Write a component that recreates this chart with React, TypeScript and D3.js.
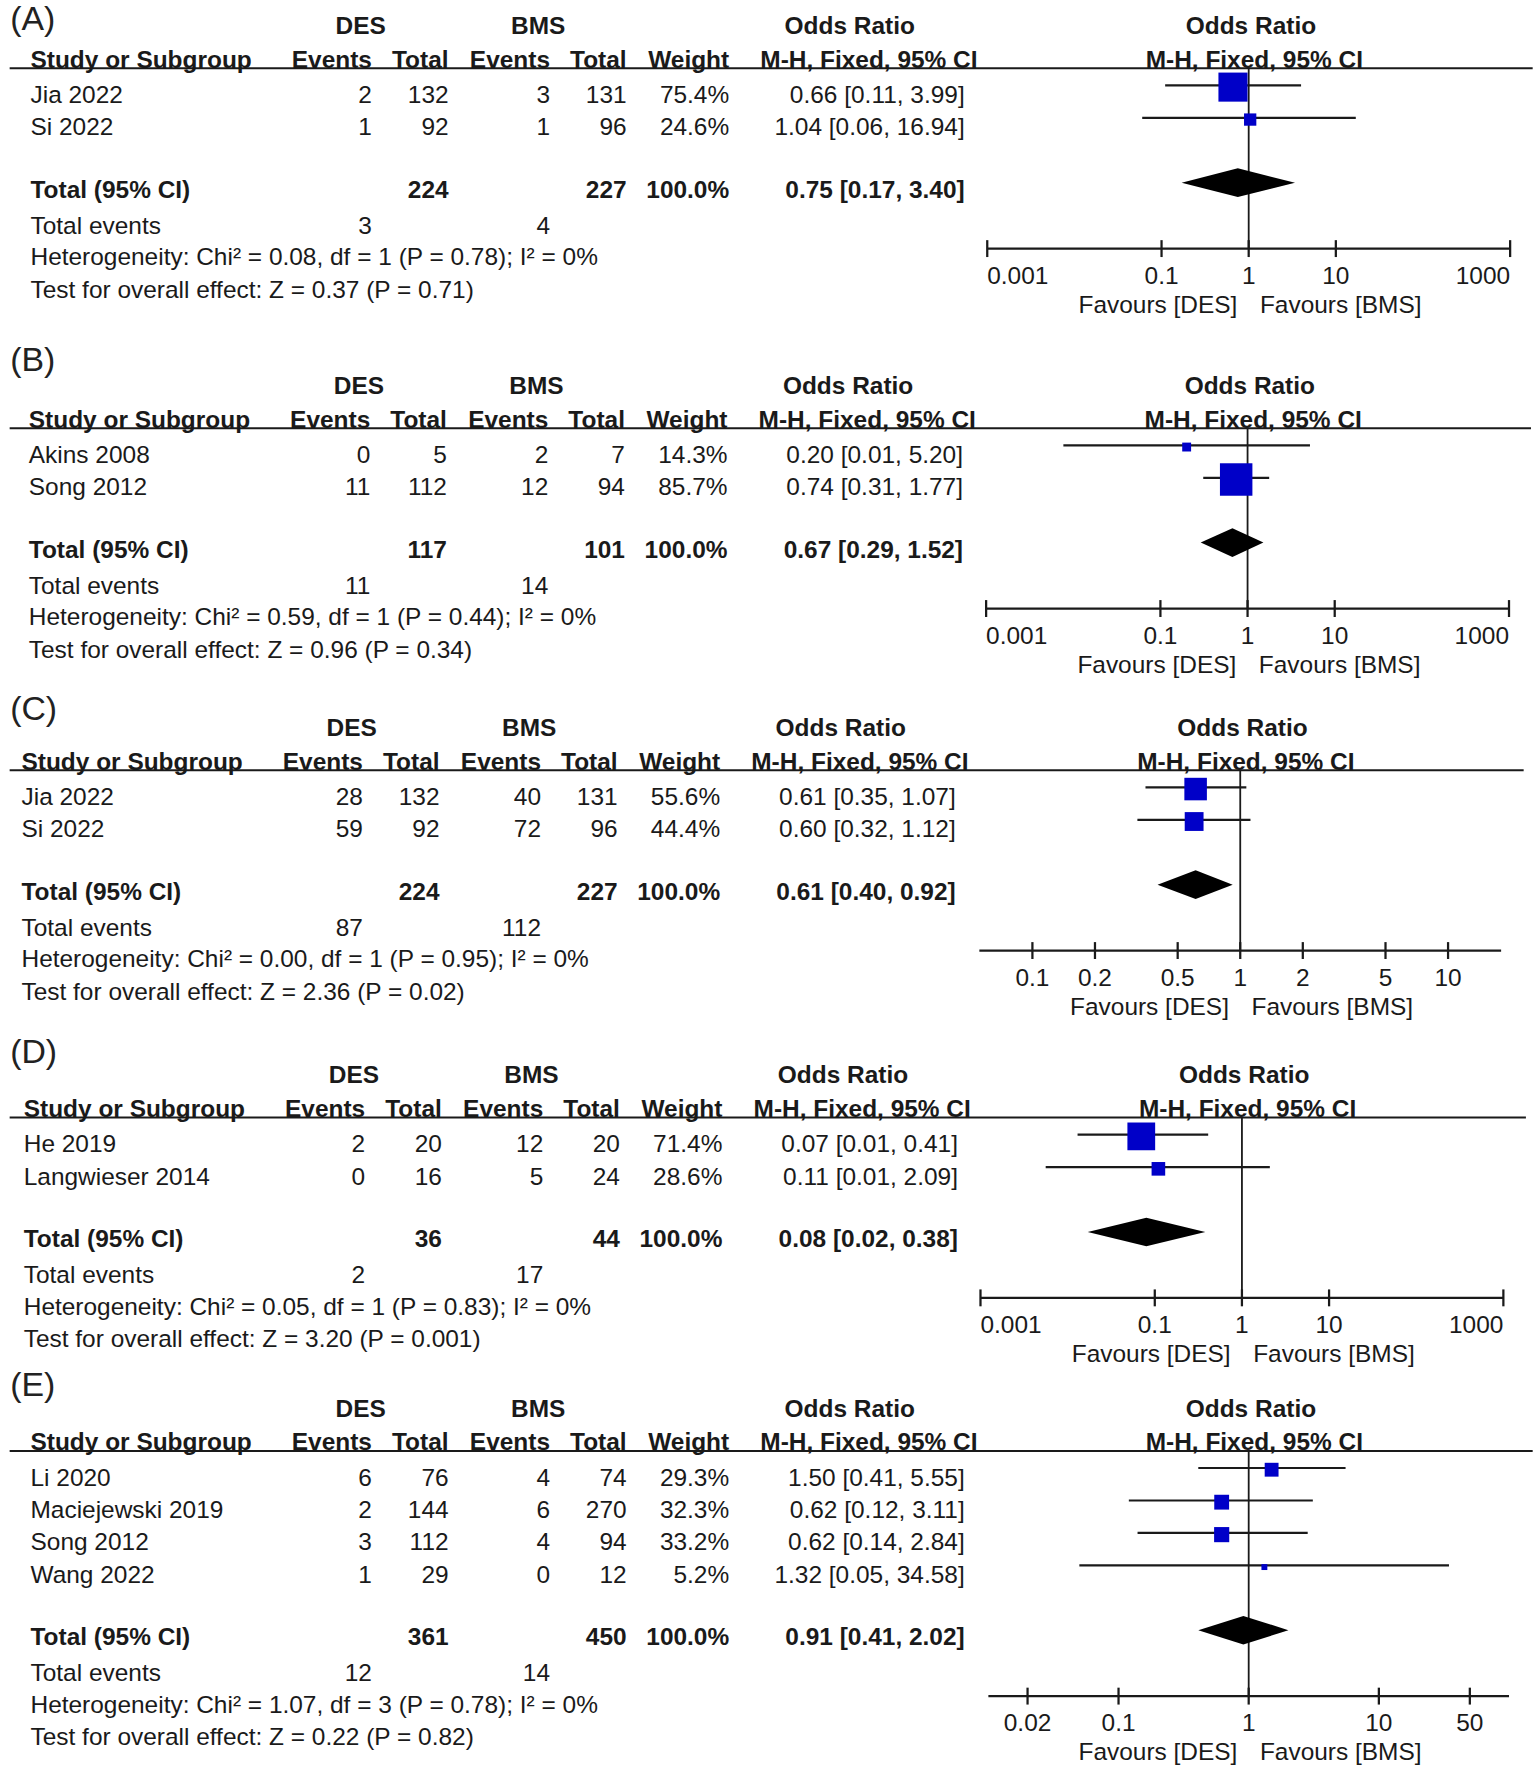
import React from "react"
import * as d3 from "d3"

// ---- data ----
const panelLabels = ["(A)", "(B)", "(C)", "(D)", "(E)"]

const studyNames = [
  ["Jia 2022", "Si 2022"],
  ["Akins 2008", "Song 2012"],
  ["Jia 2022", "Si 2022"],
  ["He 2019", "Langwieser 2014"],
  ["Li 2020", "Maciejewski 2019", "Song 2012", "Wang 2022"],
]
const desEvents = [[2, 1], [0, 11], [28, 59], [2, 0], [6, 2, 3, 1]]
const desTotals = [[132, 92], [5, 112], [132, 92], [20, 16], [76, 144, 112, 29]]
const bmsEvents = [[3, 1], [2, 12], [40, 72], [12, 5], [4, 6, 4, 0]]
const bmsTotals = [[131, 96], [7, 94], [131, 96], [20, 24], [74, 270, 94, 12]]
const weights = [[75.4, 24.6], [14.3, 85.7], [55.6, 44.4], [71.4, 28.6], [29.3, 32.3, 33.2, 5.2]]
const oddsRatios = [[0.66, 1.04], [0.2, 0.74], [0.61, 0.6], [0.07, 0.11], [1.5, 0.62, 0.62, 1.32]]
const ciLower = [[0.11, 0.06], [0.0077, 0.31], [0.35, 0.32], [0.013, 0.0056], [0.41, 0.12, 0.14, 0.05]]
const ciUpper = [[3.99, 16.94], [5.2, 1.77], [1.07, 1.12], [0.41, 2.09], [5.55, 3.11, 2.84, 34.58]]

const totalDes = [224, 117, 224, 36, 361]
const totalBms = [227, 101, 227, 44, 450]
const pooledOr = [0.75, 0.67, 0.61, 0.08, 0.91]
const pooledLower = [0.17, 0.29, 0.4, 0.017, 0.41]
const pooledUpper = [3.4, 1.52, 0.92, 0.38, 2.02]
const eventsDes = [3, 11, 87, 2, 12]
const eventsBms = [4, 14, 112, 17, 14]
const chiSq = ["0.08", "0.59", "0.00", "0.05", "1.07"]
const dfs = [1, 1, 1, 1, 3]
const pHet = ["0.78", "0.44", "0.95", "0.83", "0.78"]
const iSq = [0, 0, 0, 0, 0]
const zStats = ["0.37", "0.96", "2.36", "3.20", "0.22"]
const pOverall = ["0.71", "0.34", "0.02", "0.001", "0.82"]

const axisDomains = [[0.001, 1000], [0.001, 1000], [1 / 18, 18], [0.001, 1000], [0.01, 100]]
const axisTicks = [
  [0.001, 0.1, 1, 10, 1000],
  [0.001, 0.1, 1, 10, 1000],
  [0.1, 0.2, 0.5, 1, 2, 5, 10],
  [0.001, 0.1, 1, 10, 1000],
  [0.02, 0.1, 1, 10, 50],
]

// ---- layout (viewBox units) ----
const VW = 1362
const VH = 1568
const ruleY = [60.6, 380, 683.5, 991.7, 1287.5]
const labelY = [16, 319, 628, 933, 1228]
const shiftX = [0, -1.5, -8, -6, 0]
const plotRange = [[876, 1340], [875, 1339], [869, 1332], [870, 1334], [877, 1339]]

const FONT = "'Liberation Sans', Arial, Helvetica, sans-serif"
const FS = 21.7
const INK = "#1a1a1a"
const BLUE = "#0000c8"

const fmt2 = d3.format(".2f")
const fmt1 = d3.format(".1f")
const boxSize = d3.scaleLinear().domain([0, 100]).range([3.7, 33])

const Panel: React.FC<{ i: number }> = ({ i }) => {
  const dx = shiftX[i]
  const L = ruleY[i]
  const x = d3.scaleLog().domain(axisDomains[i]).range(plotRange[i])
  const x1 = x(1)
  const [r0, r1] = plotRange[i]
  const rows = studyNames[i]
  const rowY = rows.map((_, k) => L + 23.2 + k * 28.8)
  const lastY = rowY[rowY.length - 1]
  const totY = lastY + 55.5
  const evY = totY + 31.7
  const hetY = evY + 28.1
  const testY = hetY + 28.7
  const axisY = lastY + 108

  const col = {
    study: 27 + dx,
    desEv: 330 + dx,
    desTot: 398 + dx,
    bmsEv: 488 + dx,
    bmsTot: 556 + dx,
    weight: 647 + dx,
    or: 856 + dx,
  }
  const t = (props: any, s: string | number, key?: string | number) => (
    <text key={key} fontFamily={FONT} fontSize={FS} fill={INK} dominantBaseline="central" {...props}>
      {s}
    </text>
  )
  const dH = 12.7
  const dY = totY - 6

  return (
    <g>
      <text x={9} y={labelY[i]} fontFamily={FONT} fontSize={30} fill="#222" dominantBaseline="central">
        {panelLabels[i]}
      </text>
      {/* header */}
      {t({ x: 320 + dx, y: L - 38, textAnchor: "middle", fontWeight: "bold" }, "DES")}
      {t({ x: 477.5 + dx, y: L - 38, textAnchor: "middle", fontWeight: "bold" }, "BMS")}
      {t({ x: 754 + dx, y: L - 38, textAnchor: "middle", fontWeight: "bold" }, "Odds Ratio")}
      {t({ x: x1 + 2, y: L - 38, textAnchor: "middle", fontWeight: "bold" }, "Odds Ratio")}
      {t({ x: col.study, y: L - 8, fontWeight: "bold" }, "Study or Subgroup")}
      {t({ x: col.desEv, y: L - 8, textAnchor: "end", fontWeight: "bold" }, "Events")}
      {t({ x: col.desTot, y: L - 8, textAnchor: "end", fontWeight: "bold" }, "Total")}
      {t({ x: col.bmsEv, y: L - 8, textAnchor: "end", fontWeight: "bold" }, "Events")}
      {t({ x: col.bmsTot, y: L - 8, textAnchor: "end", fontWeight: "bold" }, "Total")}
      {t({ x: col.weight, y: L - 8, textAnchor: "end", fontWeight: "bold" }, "Weight")}
      {t({ x: 771 + dx, y: L - 8, textAnchor: "middle", fontWeight: "bold" }, "M-H, Fixed, 95% CI")}
      {t({ x: x1 + 5, y: L - 8, textAnchor: "middle", fontWeight: "bold" }, "M-H, Fixed, 95% CI")}
      <line x1={8.5} x2={1360 + dx} y1={L} y2={L} stroke={INK} strokeWidth={1.8} />

      {/* study rows */}
      {rows.map((name, k) => (
        <g key={name + k}>
          {t({ x: col.study, y: rowY[k] }, name)}
          {t({ x: col.desEv, y: rowY[k], textAnchor: "end" }, desEvents[i][k])}
          {t({ x: col.desTot, y: rowY[k], textAnchor: "end" }, desTotals[i][k])}
          {t({ x: col.bmsEv, y: rowY[k], textAnchor: "end" }, bmsEvents[i][k])}
          {t({ x: col.bmsTot, y: rowY[k], textAnchor: "end" }, bmsTotals[i][k])}
          {t({ x: col.weight, y: rowY[k], textAnchor: "end" }, `${fmt1(weights[i][k])}%`)}
          {t(
            { x: col.or, y: rowY[k], textAnchor: "end" },
            `${fmt2(oddsRatios[i][k])} [${fmt2(ciLower[i][k])}, ${fmt2(ciUpper[i][k])}]`
          )}
        </g>
      ))}

      {/* totals */}
      {t({ x: col.study, y: totY, fontWeight: "bold" }, "Total (95% CI)")}
      {t({ x: col.desTot, y: totY, textAnchor: "end", fontWeight: "bold" }, totalDes[i])}
      {t({ x: col.bmsTot, y: totY, textAnchor: "end", fontWeight: "bold" }, totalBms[i])}
      {t({ x: col.weight, y: totY, textAnchor: "end", fontWeight: "bold" }, "100.0%")}
      {t(
        { x: col.or, y: totY, textAnchor: "end", fontWeight: "bold" },
        `${fmt2(pooledOr[i])} [${fmt2(pooledLower[i])}, ${fmt2(pooledUpper[i])}]`
      )}
      {t({ x: col.study, y: evY }, "Total events")}
      {t({ x: col.desEv, y: evY, textAnchor: "end" }, eventsDes[i])}
      {t({ x: col.bmsEv, y: evY, textAnchor: "end" }, eventsBms[i])}
      {t(
        { x: col.study, y: hetY },
        `Heterogeneity: Chi² = ${chiSq[i]}, df = ${dfs[i]} (P = ${pHet[i]}); I² = ${iSq[i]}%`
      )}
      {t({ x: col.study, y: testY }, `Test for overall effect: Z = ${zStats[i]} (P = ${pOverall[i]})`)}

      {/* forest plot */}
      <line x1={x1} x2={x1} y1={L} y2={axisY} stroke={INK} strokeWidth={1.6} />
      {rows.map((name, k) => {
        const cy = rowY[k] - 8
        const s = boxSize(weights[i][k])
        return (
          <g key={"m" + k}>
            <line
              x1={x(ciLower[i][k])}
              x2={x(ciUpper[i][k])}
              y1={cy}
              y2={cy}
              stroke={INK}
              strokeWidth={1.9}
            />
            <rect x={x(oddsRatios[i][k]) - s / 2} y={cy + 1.5 - s / 2} width={s} height={s} fill={BLUE} />
          </g>
        )
      })}
      <path
        d={`M${x(pooledLower[i])},${dY} L${x(pooledOr[i])},${dY - dH} L${x(pooledUpper[i])},${dY} L${x(
          pooledOr[i]
        )},${dY + dH} Z`}
        fill="#000"
      />

      {/* axis */}
      <line x1={r0} x2={r1} y1={axisY} y2={axisY} stroke={INK} strokeWidth={2} />
      {axisTicks[i].map((v) => {
        const px = x(v)
        const anchor = Math.abs(px - r0) < 3 ? "start" : Math.abs(px - r1) < 3 ? "end" : "middle"
        return (
          <g key={"t" + v}>
            <line x1={px} x2={px} y1={axisY - 7.5} y2={axisY + 7.5} stroke={INK} strokeWidth={2} />
            {t({ x: px, y: axisY + 23.5, textAnchor: anchor }, String(v))}
          </g>
        )
      })}
      {t({ x: x1 - 10, y: axisY + 49.5, textAnchor: "end" }, "Favours [DES]")}
      {t({ x: x1 + 10, y: axisY + 49.5 }, "Favours [BMS]")}
    </g>
  )
}

export default function App() {
  return (
    <svg
      width={1535}
      height={1767}
      viewBox={`0 0 ${VW} ${VH}`}
      style={{ position: "absolute", left: 0, top: 0, background: "#fff", display: "block" }}
    >
      <rect width={VW} height={VH} fill="#fff" />
      {panelLabels.map((_, i) => (
        <Panel key={i} i={i} />
      ))}
    </svg>
  )
}
